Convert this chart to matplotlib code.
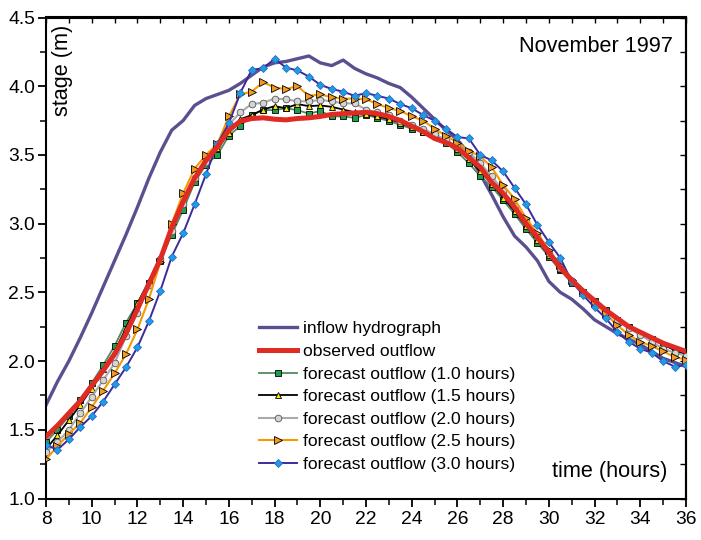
import numpy as np
import matplotlib
matplotlib.use("Agg")
import matplotlib.pyplot as plt
from matplotlib import font_manager
from matplotlib.ticker import MultipleLocator

# pick a narrow sans if there is one, otherwise shrink the regular one
names = {f.name for f in font_manager.fontManager.ttflist}
if "Liberation Sans Narrow" in names:
    FONT, K = "Liberation Sans Narrow", 1.0
else:
    FONT, K = "Liberation Sans", 0.84
plt.rcParams["font.family"] = [FONT, "DejaVu Sans"]

# time axis, half-hour steps
hours = np.arange(8, 36.01, 0.5)

inflow = [1.68, 1.85, 2.00, 2.17, 2.35, 2.54, 2.73, 2.92, 3.12, 3.33,
          3.52, 3.68, 3.75, 3.86, 3.91, 3.94, 3.97, 4.02, 4.08, 4.14,
          4.17, 4.18, 4.20, 4.22, 4.17, 4.15, 4.19, 4.13, 4.09, 4.06,
          4.02, 3.99, 3.92, 3.84, 3.76, 3.68, 3.61, 3.51, 3.36, 3.21,
          3.05, 2.91, 2.83, 2.73, 2.58, 2.50, 2.45, 2.38, 2.30, 2.25,
          2.20, 2.16, 2.12, 2.07, 2.02, 1.99, 1.96]

observed = [1.45, 1.53, 1.62, 1.71, 1.82, 1.93, 2.05, 2.20, 2.38, 2.56,
            2.74, 2.97, 3.16, 3.33, 3.46, 3.56, 3.68, 3.745, 3.765, 3.77,
            3.76, 3.755, 3.765, 3.77, 3.78, 3.795, 3.80, 3.805, 3.81, 3.80,
            3.78, 3.75, 3.71, 3.67, 3.62, 3.59, 3.55, 3.48, 3.41, 3.30,
            3.22, 3.12, 3.00, 2.90, 2.79, 2.68, 2.59, 2.51, 2.44, 2.37,
            2.31, 2.25, 2.21, 2.17, 2.13, 2.10, 2.07]

fc_10 = [1.41, 1.50, 1.60, 1.72, 1.84, 1.97, 2.11, 2.28, 2.42, 2.57,
         2.73, 2.92, 3.10, 3.30, 3.43, 3.50, 3.64, 3.71, 3.79, 3.826,
         3.826, 3.84, 3.826, 3.80, 3.82, 3.78, 3.78, 3.77, 3.79, 3.77,
         3.746, 3.72, 3.69, 3.67, 3.64, 3.59, 3.52, 3.44, 3.345, 3.27,
         3.17, 3.07, 2.96, 2.86, 2.76, 2.66, 2.57, 2.50, 2.44, 2.37,
         2.30, 2.25, 2.20, 2.16, 2.12, 2.08, 2.05]

fc_15 = [1.36, 1.46, 1.57, 1.68, 1.80, 1.94, 2.07, 2.24, 2.42, 2.58,
         2.76, 2.96, 3.15, 3.33, 3.46, 3.55, 3.66, 3.76, 3.79, 3.83,
         3.855, 3.84, 3.87, 3.855, 3.86, 3.85, 3.83, 3.81, 3.80, 3.78,
         3.76, 3.735, 3.70, 3.665, 3.64, 3.61, 3.54, 3.47, 3.38, 3.29,
         3.19, 3.09, 2.98, 2.88, 2.77, 2.67, 2.59, 2.51, 2.44, 2.37,
         2.30, 2.25, 2.20, 2.16, 2.12, 2.08, 2.05]

fc_20 = [1.34, 1.41, 1.50, 1.62, 1.74, 1.86, 1.985, 2.18, 2.35, 2.55,
         2.74, 2.95, 3.14, 3.33, 3.45, 3.57, 3.72, 3.81, 3.87, 3.88,
         3.91, 3.905, 3.89, 3.89, 3.90, 3.89, 3.875, 3.875, 3.83, 3.81,
         3.79, 3.75, 3.72, 3.69, 3.65, 3.61, 3.56, 3.52, 3.44, 3.345,
         3.24, 3.13, 3.02, 2.91, 2.79, 2.68, 2.58, 2.50, 2.43, 2.36,
         2.29, 2.24, 2.19, 2.14, 2.09, 2.06, 2.04]

fc_25 = [1.285, 1.38, 1.47, 1.55, 1.665, 1.785, 1.91, 2.05, 2.23, 2.45,
         2.72, 3.00, 3.22, 3.40, 3.50, 3.58, 3.78, 3.94, 3.96, 4.03,
         3.99, 3.98, 4.00, 3.93, 3.94, 3.92, 3.91, 3.91, 3.905, 3.87,
         3.84, 3.82, 3.78, 3.75, 3.69, 3.64, 3.59, 3.53, 3.49, 3.41,
         3.28, 3.18, 3.04, 2.93, 2.81, 2.70, 2.59, 2.50, 2.42, 2.34,
         2.26, 2.19, 2.14, 2.11, 2.07, 2.03, 2.01]

fc_30 = [1.39, 1.355, 1.43, 1.52, 1.60, 1.705, 1.83, 1.955, 2.10, 2.29,
         2.51, 2.76, 2.93, 3.14, 3.36, 3.58, 3.73, 3.95, 4.12, 4.13,
         4.20, 4.135, 4.115, 4.07, 4.01, 3.98, 3.96, 3.93, 3.95, 3.93,
         3.91, 3.87, 3.84, 3.79, 3.75, 3.69, 3.63, 3.62, 3.50, 3.46,
         3.38, 3.26, 3.14, 2.99, 2.865, 2.75, 2.58, 2.48, 2.39, 2.31,
         2.21, 2.14, 2.09, 2.06, 2.00, 1.96, 1.97]

fig = plt.figure(figsize=(7.01, 5.40), dpi=100)
ax = fig.add_axes([46 / 701, 1 - 498.5 / 540, 640 / 701, 481 / 540])

ax.plot(hours, inflow, color="#5b4f8f", lw=2.4, label="inflow hydrograph", zorder=2)
ax.plot(hours, fc_10, color="#4e8a60", lw=1.3, marker="s", ms=4.3,
        mfc="#19a04c", mec="black", mew=0.6, label="forecast outflow (1.0 hours)", zorder=3)
ax.plot(hours, fc_15, color="black", lw=1.3, marker="^", ms=5,
        mfc="#ffe000", mec="black", mew=0.6, label="forecast outflow (1.5 hours)", zorder=3)
ax.plot(hours, fc_20, color="#aaaaaa", lw=1.5, marker="o", ms=4.8,
        mfc="#d4d4d4", mec="#555555", mew=0.6, label="forecast outflow (2.0 hours)", zorder=3)
ax.plot(hours, fc_25, color="#f59a00", lw=1.5, marker=">", ms=5.5,
        mfc="#f39a1c", mec="black", mew=0.6, label="forecast outflow (2.5 hours)", zorder=3)
ax.plot(hours, fc_30, color="#3a2c9c", lw=1.4, marker="D", ms=4.5,
        mfc="#1c9ee0", mec="#2a6ad0", mew=0.6, label="forecast outflow (3.0 hours)", zorder=3)
ax.plot(hours, observed, color="#e02a24", lw=3.6, label="observed outflow", zorder=4)

ax.set_xlim(8, 36)
ax.set_ylim(1.0, 4.5)
ax.xaxis.set_major_locator(MultipleLocator(2))
ax.xaxis.set_minor_locator(MultipleLocator(1))
ax.yaxis.set_major_locator(MultipleLocator(0.5))
ax.yaxis.set_minor_locator(MultipleLocator(0.25))
ax.yaxis.set_major_formatter(matplotlib.ticker.FormatStrFormatter("%.1f"))
ax.tick_params(which="major", direction="out", length=6, width=1.3, labelsize=16.5 * K)
ax.tick_params(which="minor", direction="out", length=4, width=1.1)
ax.tick_params(axis="x", pad=3)
ax.tick_params(axis="y", pad=2)
for s in ax.spines.values():
    s.set_linewidth(1.5)

# top and right get inward ticks without labels
top = ax.secondary_xaxis("top")
top.xaxis.set_major_locator(MultipleLocator(1))
top.tick_params(direction="in", length=4, width=1.0, labeltop=False)
top.spines["top"].set_linewidth(1.5)
right = ax.secondary_yaxis("right")
right.yaxis.set_major_locator(MultipleLocator(0.25))
right.tick_params(direction="in", length=4, width=1.0, labelright=False)
right.spines["right"].set_linewidth(1.5)

ax.text(0.9795, 0.94, "November 1997", transform=ax.transAxes, ha="right",
        va="center", fontsize=18.5 * K)
ax.text(0.9715, 0.056, "time (hours)", transform=ax.transAxes, ha="right",
        va="center", fontsize=18.5 * K)
ax.text(0.026, 0.985, "stage (m)", transform=ax.transAxes, ha="center",
        va="top", rotation=90, fontsize=18.5 * K)

h, l = ax.get_legend_handles_labels()
order = [0, 6, 1, 2, 3, 4, 5]
ax.legend([h[i] for i in order], [l[i] for i in order], loc="upper left",
          bbox_to_anchor=(247 / 701, 1 - 309 / 540), bbox_transform=fig.transFigure,
          frameon=False, fontsize=15 * K, handlelength=2.15, handletextpad=0.33,
          labelspacing=0.42, borderpad=0.2, numpoints=1)

fig.savefig("out.png", dpi=100)
